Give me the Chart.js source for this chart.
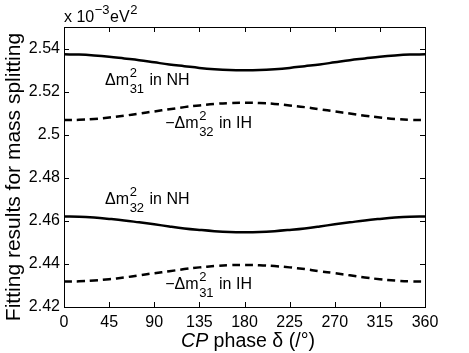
<!DOCTYPE html>
<html>
<head>
<meta charset="utf-8">
<script src="https://cdn.jsdelivr.net/npm/chart.js@4.4.1/dist/chart.umd.min.js"></script>
<style>
  html, body { margin: 0; padding: 0; background: #fff; }
  #wrap { width: 469px; height: 353px; }
</style>
</head>
<body>
<div id="wrap"><canvas id="chart"></canvas></div>
<script>
// CP phase values (degrees)
const deltas = [0, 15, 30, 45, 60, 75, 90, 105, 120, 135, 150, 165, 180,
                195, 210, 225, 240, 255, 270, 285, 300, 315, 330, 345, 360];

// (units of 10^-3 eV^2)
const nh31 = [2.5373, 2.5372, 2.5368, 2.5362, 2.5354, 2.5346, 2.5336, 2.5326, 2.5318, 2.5310, 2.5304, 2.5300, 2.5299,
              2.5300, 2.5304, 2.5310, 2.5318, 2.5326, 2.5336, 2.5346, 2.5354, 2.5362, 2.5368, 2.5372, 2.5373];
const ih32 = [2.5068, 2.5069, 2.5073, 2.5080, 2.5088, 2.5098, 2.5108, 2.5118, 2.5128, 2.5136, 2.5143, 2.5147, 2.5148,
              2.5147, 2.5143, 2.5136, 2.5128, 2.5118, 2.5108, 2.5098, 2.5088, 2.5080, 2.5073, 2.5069, 2.5068];
const nh32 = [2.4620, 2.4619, 2.4615, 2.4609, 2.4602, 2.4593, 2.4584, 2.4574, 2.4565, 2.4558, 2.4552, 2.4548, 2.4547,
              2.4548, 2.4552, 2.4558, 2.4565, 2.4574, 2.4584, 2.4593, 2.4602, 2.4609, 2.4615, 2.4619, 2.4620];
const ih31 = [2.4318, 2.4319, 2.4323, 2.4329, 2.4337, 2.4347, 2.4357, 2.4366, 2.4376, 2.4384, 2.4390, 2.4394, 2.4395,
              2.4394, 2.4390, 2.4384, 2.4376, 2.4366, 2.4357, 2.4347, 2.4337, 2.4329, 2.4323, 2.4319, 2.4318];

const xTicks = [0, 45, 90, 135, 180, 225, 270, 315, 360];
const yTicks = [2.42, 2.44, 2.46, 2.48, 2.50, 2.52, 2.54];

// curve labels: prefix, subscript, suffix
const curveLabels = [
  { pre: 'Δm', sub: '31', post: ' in NH', x: 41, y: 2.523 },
  { pre: '−Δm', sub: '32', post: ' in IH', x: 101, y: 2.503 },
  { pre: 'Δm', sub: '32', post: ' in NH', x: 41, y: 2.4678 },
  { pre: '−Δm', sub: '31', post: ' in IH', x: 101, y: 2.4284 }
];

const FONT = '"Liberation Sans", Arial, Helvetica, sans-serif';

const toPts = vals => vals.map((v, i) => ({ x: deltas[i], y: v }));

const lineStyle = (vals, dashed) => ({
  data: toPts(vals),
  borderColor: '#000',
  borderWidth: 2.5,
  borderDash: dashed ? [8, 5] : [],
  pointRadius: 0,
  tension: 0.4,
  fill: false
});

// box, inward ticks and all the text that Chart.js can't lay out itself
const decorations = {
  id: 'decorations',
  afterDraw(chart) {
    const { ctx, chartArea: a, scales } = chart;
    const xs = scales.x, ys = scales.y;
    ctx.save();
    ctx.strokeStyle = '#000';
    ctx.lineWidth = 1;
    ctx.strokeRect(a.left + 0.5, a.top + 0.5, a.right - a.left, a.bottom - a.top);
    ctx.beginPath();
    xTicks.forEach(t => {
      const px = Math.round(xs.getPixelForValue(t)) + 0.5;
      ctx.moveTo(px, a.bottom); ctx.lineTo(px, a.bottom - 5);
      ctx.moveTo(px, a.top); ctx.lineTo(px, a.top + 5);
    });
    yTicks.forEach(t => {
      const py = Math.round(ys.getPixelForValue(t)) + 0.5;
      ctx.moveTo(a.left, py); ctx.lineTo(a.left + 5, py);
      ctx.moveTo(a.right, py); ctx.lineTo(a.right - 5, py);
    });
    ctx.stroke();

    ctx.fillStyle = '#000';
    ctx.textBaseline = 'alphabetic';
    ctx.textAlign = 'left';

    // curve labels
    curveLabels.forEach(l => {
      let x = xs.getPixelForValue(l.x);
      const y = ys.getPixelForValue(l.y);
      ctx.font = '16px ' + FONT;
      ctx.fillText(l.pre, x, y);
      x += ctx.measureText(l.pre).width + 0.5;
      ctx.font = '13px ' + FONT;
      ctx.fillText('2', x, y - 8);
      ctx.fillText(l.sub, x, y + 8);
      x += ctx.measureText(l.sub).width + 1;
      ctx.font = '16px ' + FONT;
      ctx.fillText(l.post, x, y);
    });

    // unit label above the axis
    let ux = a.left;
    const uy = a.top - 5;
    ctx.font = '16px ' + FONT;
    ctx.fillText('x 10', ux, uy);
    ux += ctx.measureText('x 10').width + 0.5;
    ctx.font = '13px ' + FONT;
    ctx.fillText('−3', ux, uy - 8);
    ux += ctx.measureText('−3').width + 0.5;
    ctx.font = '16px ' + FONT;
    ctx.fillText('eV', ux, uy);
    ux += ctx.measureText('eV').width + 0.5;
    ctx.font = '13px ' + FONT;
    ctx.fillText('2', ux, uy - 8);

    // x title with italic CP, squeezed a little like the original
    ctx.font = 'italic 20px ' + FONT;
    const w1 = ctx.measureText('CP').width;
    ctx.font = '20px ' + FONT;
    const rest = ' phase δ (/°)';
    const w2 = ctx.measureText(rest).width;
    const sx = 134 / (w1 + w2);
    ctx.save();
    ctx.translate(248 - 67, 347);
    ctx.scale(sx, 1);
    ctx.font = 'italic 20px ' + FONT;
    ctx.fillText('CP', 0, 0);
    ctx.font = '20px ' + FONT;
    ctx.fillText(rest, w1, 0);
    ctx.restore();

    // y title
    ctx.translate(20, 177);
    ctx.rotate(-Math.PI / 2);
    ctx.textAlign = 'center';
    ctx.font = '21px ' + FONT;
    ctx.fillText('Fitting results for mass splitting', 0, 0);
    ctx.restore();
  }
};

new Chart(document.getElementById('chart'), {
  type: 'line',
  data: {
    datasets: [
      lineStyle(nh31, false),
      lineStyle(ih32, true),
      lineStyle(nh32, false),
      lineStyle(ih31, true)
    ]
  },
  options: {
    responsive: true,
    maintainAspectRatio: false,
    animation: false,
    events: [],
    layout: { padding: { top: 27, right: 44, left: 0, bottom: 0 } },
    plugins: { legend: { display: false }, tooltip: { enabled: false } },
    scales: {
      x: {
        type: 'linear',
        min: 0,
        max: 360,
        afterBuildTicks: s => { s.ticks = xTicks.map(v => ({ value: v })); },
        afterFit: s => { s.height = 46; },
        grid: { display: false, drawTicks: false },
        border: { display: false },
        ticks: { color: '#000', font: { family: FONT, size: 16 }, padding: 6, maxRotation: 0, autoSkip: false }
      },
      y: {
        min: 2.42,
        max: 2.55,
        afterBuildTicks: s => { s.ticks = yTicks.map(v => ({ value: v })); },
        afterFit: s => { s.width = 64; },
        grid: { display: false, drawTicks: false },
        border: { display: false },
        ticks: {
          color: '#000',
          font: { family: FONT, size: 16 },
          padding: 4,
          callback: v => String(Number(v.toFixed(2)))
        }
      }
    }
  },
  plugins: [decorations]
});
</script>
</body>
</html>
